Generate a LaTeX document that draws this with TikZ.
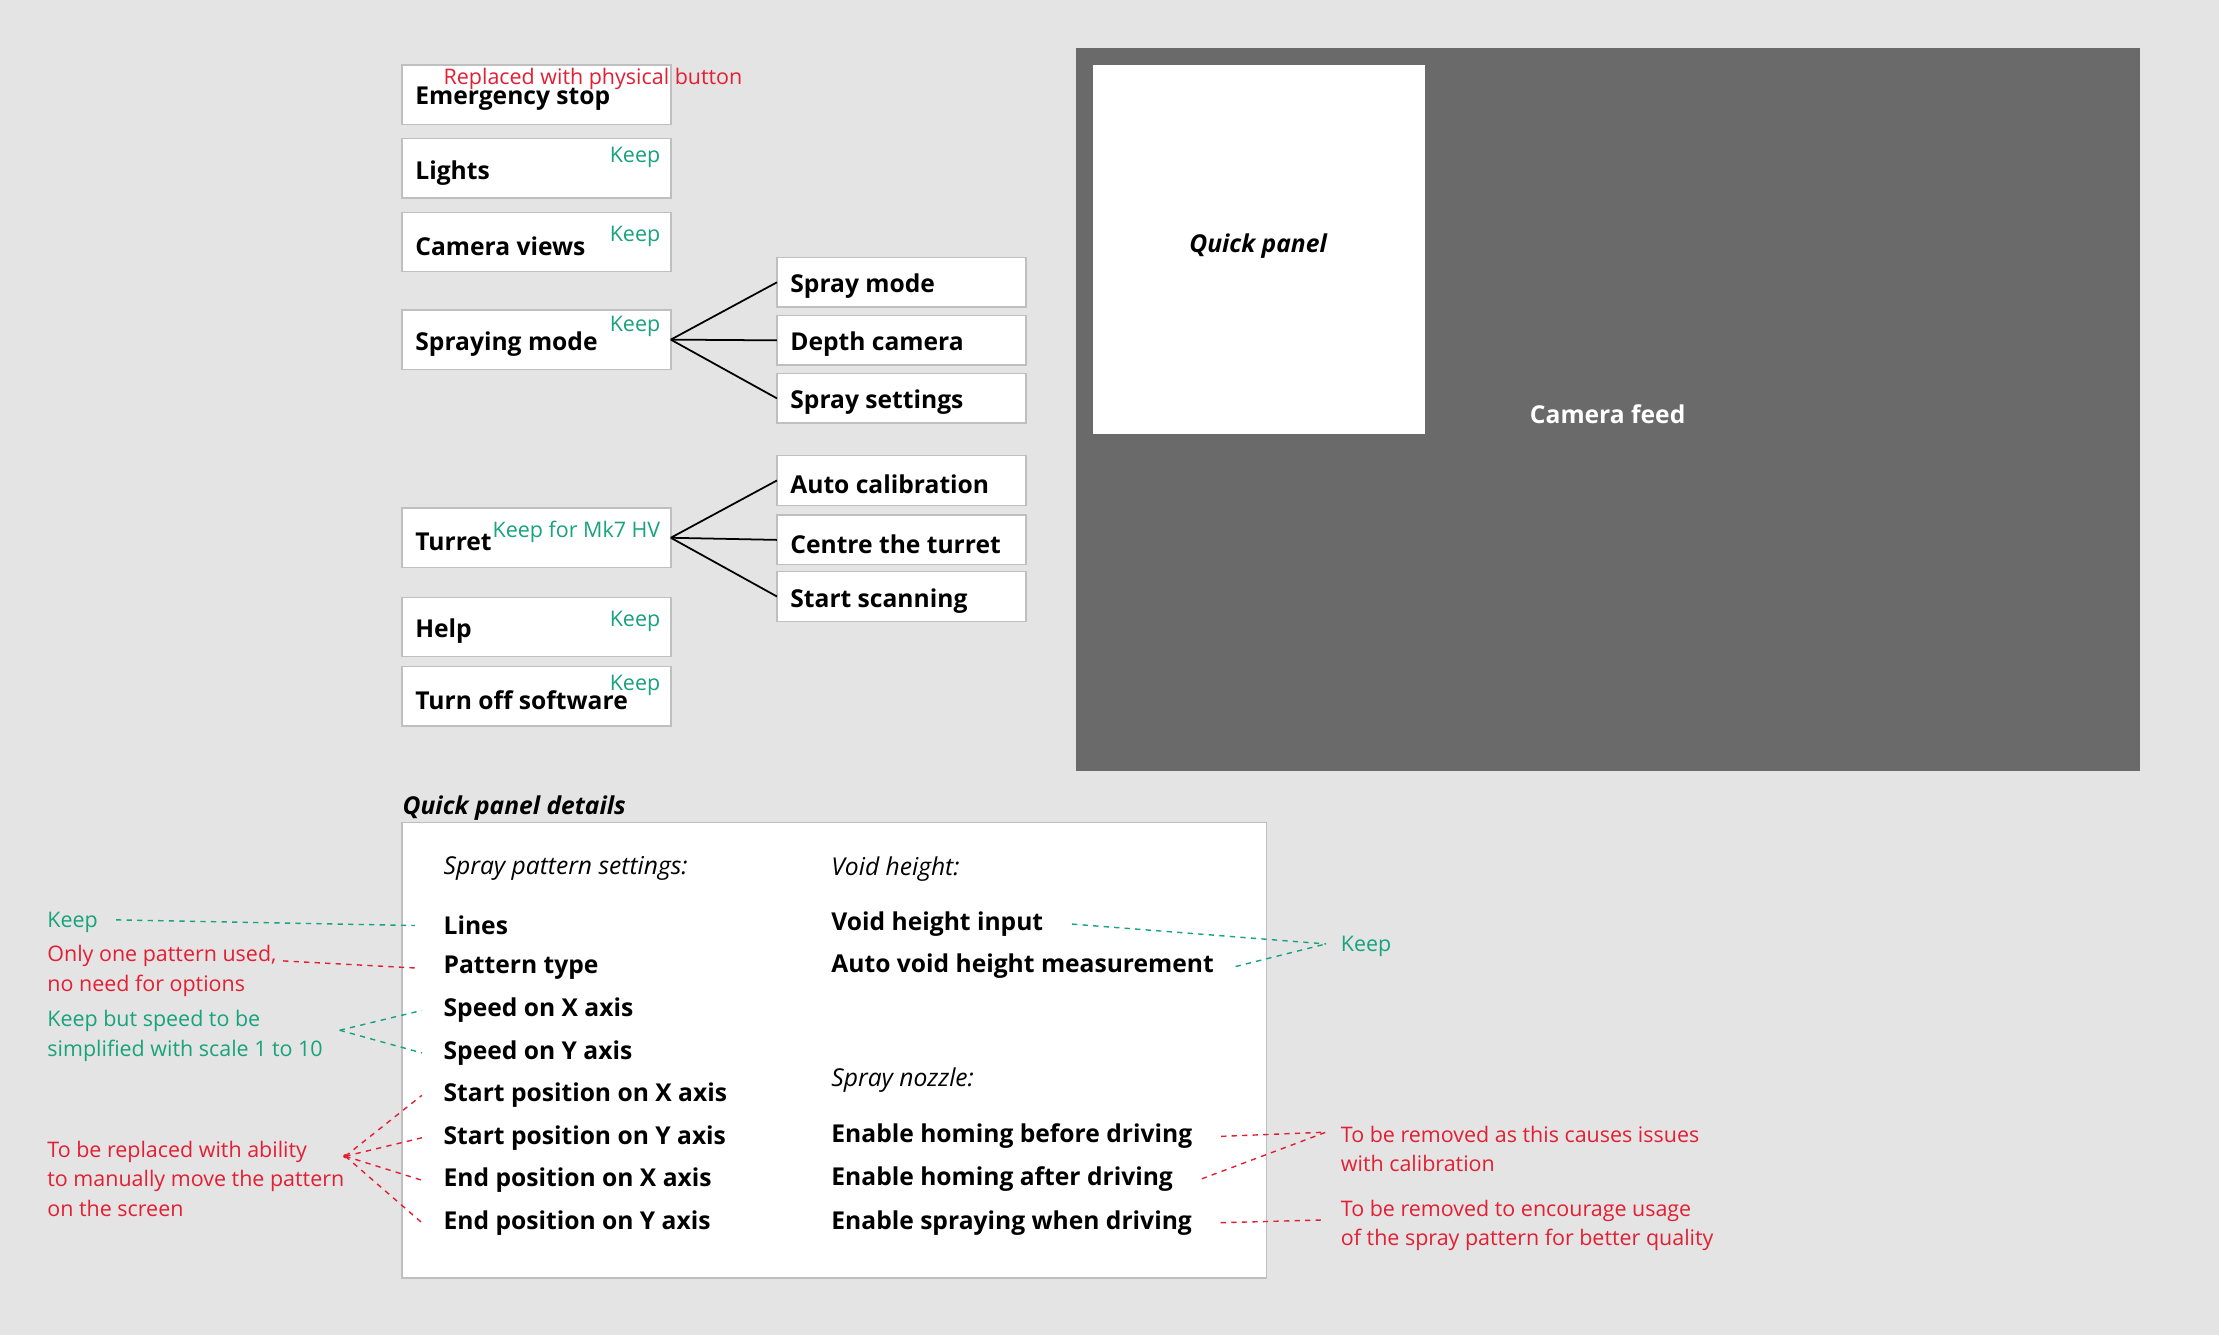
\documentclass[tikz,border=0pt]{standalone}
\usepackage{fontspec}
\setmainfont{Open Sans}
\usetikzlibrary{positioning}
\definecolor{bg}{HTML}{E4E4E4}
\definecolor{feed}{HTML}{6A6A6A}
\definecolor{keepc}{HTML}{17A37B}
\definecolor{dropc}{HTML}{E21F33}
\newcommand\dsz{\fontsize{7}{8.6}\selectfont}
\newcommand\nsz{\fontsize{6.1}{8.4}\selectfont}
\tikzset{
  lbl/.style={anchor=west, inner sep=0pt, yshift=-1.2pt, font=\dsz\bfseries},
  keep/.style={anchor=east, inner sep=0pt, yshift=-0.8pt, text=keepc, font=\nsz},
  note/.style={anchor=west, inner sep=0pt, yshift=-0.8pt, align=left, font=\nsz},
  link/.style={line width=0.5pt},
  dashk/.style={keepc, line width=0.4pt, dash pattern=on 1.5pt off 1.5pt},
  dashd/.style={dropc, line width=0.4pt, dash pattern=on 1.5pt off 1.5pt},
}
\begin{document}
\begin{tikzpicture}[x=0.014152cm, y=-0.014152cm, font=\dsz]
\fill[bg] (0,0) rectangle (1568,943);
\useasboundingbox (0,0) rectangle (1568,943);

% menu buttons
\foreach \n/\t/\a/\b in {estop/Emergency stop/46/88, lights/Lights/98/140,
  camviews/Camera views/150/192, spraying/Spraying mode/219/261,
  turret/Turret/359/401, help/Help/422/464, off/Turn off software/471/513}{
  \draw[draw=black!25, fill=white] (284,\a) rectangle (474,\b);
  \node[lbl] (\n) at (293,{(\a+\b)/2}) {\t};
}
\coordinate (sprayR) at (474,240);
\coordinate (turretR) at (474,380);
\node[note, text=dropc] (physical) at (313,54) {Replaced with physical button};
\foreach \y in {109,165,229,437,482}
  \node[keep] at (467,\y) {Keep};
\node[keep] (mk7) at (467,374) {Keep for Mk7 HV};

% sub menus
\foreach \n/\t/\a/\b in {smode/Spray mode/182/217, depth/Depth camera/223/258,
  ssettings/Spray settings/264/299, autocal/Auto calibration/322/357,
  centre/Centre the turret/364/399, scan/Start scanning/404/439}{
  \draw[draw=black!25, fill=white] (549,\a) rectangle (725,\b);
  \coordinate (\n L) at (549,{(\a+\b)/2});
  \node[lbl] (\n) at (558,{(\a+\b)/2}) {\t};
}
\foreach \s in {smode,depth,ssettings}
  \draw[link] (sprayR) -- (\s L);
\foreach \s in {autocal,centre,scan}
  \draw[link] (turretR) -- (\s L);

% camera feed
\fill[feed] (760,34) rectangle (1512,545);
\fill[white] (772,46) rectangle (1007,307);
\node[font=\dsz\bfseries\itshape] (quick) at (889,174) {Quick panel};
\node[font=\dsz\bfseries, text=white] (feedlbl) at (1136,293) {Camera feed};

% quick panel details
\node[lbl, font=\dsz\bfseries\itshape] (details) at (284,568) {Quick panel details};
\draw[draw=black!25, fill=white] (284,581) rectangle (895,903);
\node[lbl, font=\dsz\itshape] at (313,611) {Spray pattern settings:};
\node[lbl, font=\dsz\itshape] at (587,611) {Void height:};
\node[lbl, font=\dsz\itshape] at (587,760) {Spray nozzle:};
\foreach \n/\t/\y in {lines/Lines/651, ptype/Pattern type/681, spx/Speed on X axis/711,
  spy/Speed on Y axis/741, stx/Start position on X axis/771, sty/Start position on Y axis/801,
  enx/End position on X axis/831, eny/End position on Y axis/861}
  \node[lbl] (\n) at (313,\y) {\t};
\foreach \n/\t/\y in {vinput/Void height input/650, vauto/Auto void height measurement/680,
  hbefore/Enable homing before driving/800, hafter/Enable homing after driving/830,
  sdrive/Enable spraying when driving/861}
  \node[lbl] (\n) at (587,\y) {\t};

% notes left
\node[note, text=keepc] (k1) at (33,650) {Keep};
\node[note, text=dropc] (n1) at (33,684) {Only one pattern used,\\no need for options};
\node[note, text=keepc] (k2) at (33,730) {Keep but speed to be\\simplified with scale 1 to 10};
\node[note, text=dropc] (n2) at (33,831) {To be replaced with ability\\to manually move the pattern\\on the screen};
\draw[dashk] (82,650) -- ([xshift=-8]lines.west);
\draw[dashd] (200,679) -- ([xshift=-8]ptype.west);
\coordinate (k2p) at (240,728);
\foreach \s in {spx,spy} \draw[dashk] (k2p) -- ([xshift=-6]\s.west);
\coordinate (n2p) at (244,817);
\foreach \s in {stx,sty,enx,eny} \draw[dashd] (n2p) -- ([xshift=-6]\s.west);
\fill[dropc] (n2p) circle (1.5);

% notes right
\node[note, text=keepc] (k3) at (947,667) {Keep};
\node[note, text=dropc] (n3) at (947,810) {To be removed as this causes issues\\with calibration};
\node[note, text=dropc] (n4) at (947,864) {To be removed to encourage usage\\of the spray pattern for better quality};
\coordinate (k3p) at (937,667);
\coordinate (n3p) at (937,800);
\draw[dashk] ([xshift=8]vinput.east) -- (k3p);
\draw[dashk] ([xshift=6]vauto.east) -- (k3p);
\draw[dashd] ([xshift=8]hbefore.east) -- (n3p);
\draw[dashd] ([xshift=8]hafter.east) -- (n3p);
\draw[dashd] ([xshift=8]sdrive.east) -- (937,862);
\end{tikzpicture}
\end{document}
